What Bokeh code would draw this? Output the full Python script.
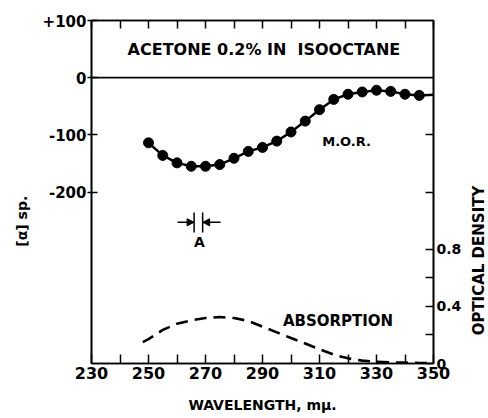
import math
from bokeh.plotting import figure
from bokeh.layouts import row
from bokeh.models import Range1d, LinearAxis, FixedTicker, Span, Label, Arrow, NormalHead
from bokeh.embed import file_html
from bokeh.resources import INLINE

# ---- data ----
mor_wl = [250, 255, 260, 265, 270, 275, 280, 285, 290, 295,
          300, 305, 310, 315, 320, 325, 330, 335, 340, 345, 350]
mor_val = [-114, -136, -149, -155, -155, -152, -141, -129, -122, -111,
           -95, -76, -56, -38, -29, -25, -22, -24, -29, -31, -30]

abs_wl = [248, 250, 255, 260, 265, 270, 275, 280, 285, 290, 295,
          300, 305, 310, 315, 320, 325, 330, 335, 340, 345, 350]
abs_od = [0.15, 0.17, 0.235, 0.278, 0.302, 0.318, 0.325, 0.318, 0.298, 0.258, 0.218,
          0.178, 0.14, 0.10, 0.062, 0.036, 0.02, 0.012, 0.008, 0.006, 0.004, 0.003]

x_ticks = [230, 240, 250, 260, 270, 280, 290, 300, 310, 320, 330, 340, 350]
x_tick_labels = ["230", "", "250", "", "270", "", "290", "", "310", "", "330", "", "350"]
left_ticks = [100, 0, -100, -200]
left_tick_labels = ["+100", "0", "-100", "-200"]
right_ticks = [0, 0.2, 0.4, 0.6, 0.8, 1.2, 1.6]
right_tick_labels = ["0", "", "0.4", "", "0.8", "", ""]

FONT = "DejaVu Sans"
NB = "\u00a0"

p = figure(width=466, height=418, x_range=Range1d(230, 350), y_range=Range1d(-500, 100),
           output_backend="svg", toolbar_location=None,
           min_border_left=91, min_border_right=33, min_border_top=20, min_border_bottom=55)
p.extra_y_ranges = {"od": Range1d(0, 2.4)}
p.xgrid.visible = False
p.ygrid.visible = False
p.outline_line_color = "black"
p.outline_line_width = 1.6
p.background_fill_color = "white"
p.border_fill_color = "white"

def style_axis(ax, size):
    ax.axis_line_width = 1.6
    ax.axis_line_color = "black"
    ax.major_tick_line_width = 1.5
    ax.major_tick_line_color = "black"
    ax.minor_tick_line_color = None
    ax.major_label_text_font = FONT
    ax.major_label_text_font_style = "bold"
    ax.major_label_text_font_size = size
    ax.major_label_text_color = "black"
    ax.axis_label_text_font = FONT
    ax.axis_label_text_font_style = "bold"
    ax.axis_label_text_color = "black"

# bottom axis
xa = p.xaxis[0]
xa.ticker = FixedTicker(ticks=x_ticks, minor_ticks=[])
xa.major_label_overrides = {t: l for t, l in zip(x_ticks, x_tick_labels)}
style_axis(xa, "16px")
xa.major_tick_in = 9
xa.major_tick_out = 0
xa.major_label_standoff = 3
xa.axis_label = "WAVELENGTH, m\u03bc."
xa.axis_label_text_font_size = "14px"
xa.axis_label_standoff = 15

# left axis
ya = p.yaxis[0]
ya.ticker = FixedTicker(ticks=left_ticks, minor_ticks=[])
ya.major_label_overrides = {t: l for t, l in zip(left_ticks, left_tick_labels)}
style_axis(ya, "15px")
ya.major_tick_in = 6
ya.major_tick_out = 4
ya.major_label_standoff = 1
ya.axis_label = "[\u03b1] sp." + NB * 12
ya.axis_label_text_font_size = "14px"
ya.axis_label_standoff = 10

# top axis (ticks only)
ta = LinearAxis(ticker=FixedTicker(ticks=x_ticks, minor_ticks=[]))
style_axis(ta, "0px")
ta.major_tick_in = 8
ta.major_tick_out = 0
ta.major_label_standoff = 0
ta.major_label_overrides = {t: "" for t in x_ticks}
p.add_layout(ta, "above")

# right axis (optical density)
ra = LinearAxis(y_range_name="od", ticker=FixedTicker(ticks=right_ticks, minor_ticks=[]))
ra.major_label_overrides = {t: l for t, l in zip(right_ticks, right_tick_labels)}
style_axis(ra, "14px")
ra.major_tick_in = 8
ra.major_tick_out = 0
ra.major_label_standoff = 3
p.add_layout(ra, "right")

# zero line
p.add_layout(Span(location=0, dimension="width", line_color="black", line_width=1.6))

# M.O.R. curve
p.line(mor_wl, mor_val, line_color="black", line_width=2.5)
p.scatter(mor_wl[:-1], mor_val[:-1], size=10, fill_color="black", line_color="black")

# absorption curve
p.line(abs_wl, abs_od, y_range_name="od", line_color="black", line_width=2.6, line_dash="12 7")

def lab(fig, x, y, text, size, angle=0.0, y_range_name="default"):
    fig.add_layout(Label(x=x, y=y, text=text, text_font=FONT, text_font_style="bold",
                         text_font_size=size, text_align="center", text_baseline="middle",
                         angle=angle, text_color="black", y_range_name=y_range_name))

lab(p, 290.5, 49, "ACETONE 0.2% IN" + NB + " ISOOCTANE", "16px")
lab(p, 319.5, -112, "M.O.R.", "13px")
lab(p, 316.5, 0.30, "ABSORPTION", "15px", y_range_name="od")
lab(p, 267.9, -288, "A", "14px")

# slit-width marker
slit_x = [266, 269]
p.segment(x0=slit_x, y0=[-236, -236], x1=slit_x, y1=[-271, -271], line_color="black", line_width=1.5)
p.add_layout(Arrow(end=NormalHead(size=7, fill_color="black", line_color="black"),
                   x_start=260.2, y_start=-253, x_end=266, y_end=-253,
                   line_color="black", line_width=1.6))
p.add_layout(Arrow(end=NormalHead(size=7, fill_color="black", line_color="black"),
                   x_start=275.3, y_start=-253, x_end=269, y_end=-253,
                   line_color="black", line_width=1.6))

# narrow strip on the right carrying the right-hand axis title (reads bottom to top)
side = figure(width=22, height=418, x_range=Range1d(0, 22), y_range=Range1d(0, 418),
              output_backend="svg", toolbar_location=None, x_axis_type=None, y_axis_type=None,
              min_border=0)
side.xgrid.visible = False
side.ygrid.visible = False
side.outline_line_color = None
side.background_fill_color = "white"
side.border_fill_color = "white"
lab(side, 12.5, 125.5, "OPTICAL DENSITY", "15px", angle=math.pi / 2)

layout = row(p, side, spacing=0)
open("out.html", "w").write(file_html(layout, INLINE))
